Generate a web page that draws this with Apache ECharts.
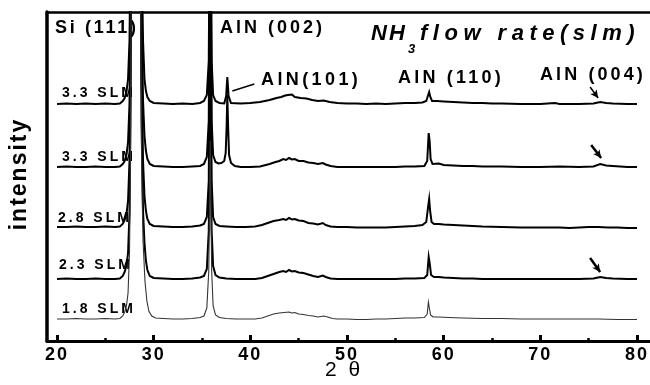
<!DOCTYPE html>
<html><head><meta charset="utf-8">
<script src="https://cdn.jsdelivr.net/npm/echarts@6/dist/echarts.min.js"></script>
<style>html,body{margin:0;padding:0;background:#fff}#c{width:650px;height:385px}</style>
</head><body><div id="c"></div>
<script>
// ---------------- data (2θ in degrees, intensity in arbitrary stacked units) ----------------
const xTickValues = [20, 30, 40, 50, 60, 70, 80];
const traceNames = ['3.3 SLM', '3.3 SLM', '2.8 SLM', '2.3 SLM', '1.8 SLM'];

const trace33a = [[20,237],[21,237.5],[22,237],[23,237.5],[24,237],[25,237.5],[26,237],[26.5,237.5],[26.8,240],[27.0,243],[27.2,250],[27.35,262],[27.5,300],[27.6,390],[27.7,640],[27.9,1700],[28.4,1700],[28.6,640],[28.75,390],[28.9,300],[29.05,262],[29.2,250],[29.35,244],[29.6,240],[30.0,238],[31,237.5],[32,237],[33,237.5],[34,237],[34.8,238],[35.2,240],[35.5,246],[35.7,280],[35.85,500],[36.0,280],[36.15,246],[36.4,240],[36.8,238],[37.3,237.5],[37.5,245],[37.62,264],[37.75,245],[38.0,238],[39,237.5],[40,238],[41,239],[42,241],[42.7,243],[43.2,244],[43.6,245.5],[43.9,246],[44.1,244.5],[44.3,246.5],[44.6,244],[45.2,243],[45.8,242.5],[46.4,241],[47.0,240],[47.6,240.5],[48.2,239],[49,238],[50,237.5],[51,237.5],[52,237],[53,237.5],[54,237],[55,237.5],[56,238],[57,238],[57.8,238.5],[58.2,240],[58.4,246],[58.5,249],[58.62,244],[58.8,240],[59.3,240],[60,239.5],[61,239],[62,238.5],[63,238],[64,238],[65,237.5],[66,237.5],[68,237],[70,237],[71.5,238],[72,237],[74,237],[75.5,237.5],[76.2,239],[76.8,238],[77.5,237.5],[79,237],[80,237]];

const trace33b = [[20,174],[21,174.5],[22,174],[23,174],[24,174.5],[25,174],[26,174],[26.5,174.5],[26.8,177],[27.0,180],[27.2,187],[27.35,199],[27.5,237],[27.6,330],[27.7,580],[27.9,1700],[28.4,1700],[28.6,580],[28.75,330],[28.9,240],[29.05,205],[29.2,190],[29.35,182],[29.6,177],[30.0,175],[31,174.5],[32,174],[33,174],[34,174.5],[34.8,175],[35.2,177],[35.5,184],[35.7,220],[35.85,500],[36.0,220],[36.15,186],[36.4,179],[36.7,177.5],[37.0,178],[37.3,180],[37.45,188],[37.55,215],[37.62,246],[37.7,215],[37.8,186],[38.0,178],[38.4,175],[39,174],[40,174],[41,174.5],[42,177],[42.6,179],[43.0,180],[43.4,182],[43.7,181],[44.0,183],[44.3,181.5],[44.6,182],[45.0,180],[45.5,180],[46.0,178.5],[46.5,178],[47.0,177],[47.5,178],[47.8,176.5],[48.3,175],[49,174],[50,174],[51,174],[52,174],[53,174],[54,174],[55,174],[56,174.5],[57,174.5],[58,175],[58.3,180],[58.45,208],[58.55,200],[58.65,182],[58.85,177],[59.5,177.5],[60,176],[61,175.5],[62,175],[63,175],[64,174.5],[66,174.5],[68,174],[70,174],[72,174.5],[74,174],[75.5,174.5],[76.2,177],[76.8,175.5],[77.5,175],[79,174],[80,174]];

const trace28 = [[20,114],[21,114],[22,114.5],[23,114],[24,114],[25,114.5],[26,114],[26.5,114.5],[26.8,117],[27.0,121],[27.2,128],[27.35,140],[27.5,180],[27.6,270],[27.7,520],[27.9,1700],[28.4,1700],[28.6,520],[28.75,270],[28.9,180],[29.05,145],[29.2,130],[29.35,122],[29.6,117],[30.0,115],[31,114.5],[32,114],[33,114],[34,114.5],[34.8,115.5],[35.2,117],[35.5,124],[35.7,160],[35.85,400],[36.0,160],[36.15,124],[36.4,117],[36.8,115],[37.5,114.5],[38.5,114],[39.5,114],[40.5,114.5],[41.2,116],[41.8,118],[42.4,120],[43.0,121],[43.4,122],[43.7,121],[44.0,123],[44.3,121.5],[44.6,122],[45.0,120.5],[45.5,120],[46.0,118],[46.5,117.5],[47.0,116.5],[47.5,118],[47.8,116],[48.3,114.5],[49,114],[50,114],[51,113.5],[52,113.5],[53,113.5],[54,113.5],[55,114],[56,114.5],[57,115],[57.8,116],[58.2,119],[58.4,135],[58.5,142],[58.6,130],[58.75,119],[59.0,117],[59.5,117],[60.0,116.5],[61,116],[62,115.5],[63,115],[64,114.5],[66,114],[68,113.5],[70,113.5],[72,113.5],[73,113],[74,113.5],[75,114],[76,114],[77,113.5],[78,113.5],[79,113],[80,113]];

const trace23 = [[20,62],[21,62.5],[22,62],[23,62],[24,62.5],[25,62],[26,62],[26.5,62.5],[26.8,65],[27.0,69],[27.2,76],[27.35,88],[27.5,128],[27.6,220],[27.7,470],[27.9,1700],[28.4,1700],[28.6,470],[28.75,220],[28.9,130],[29.05,98],[29.2,80],[29.35,71],[29.6,65],[30.0,63],[31,62.5],[32,62],[33,62],[34,62.5],[34.8,63.5],[35.2,65],[35.5,72],[35.7,110],[35.85,245],[36.0,110],[36.15,75],[36.4,66],[36.8,63.5],[37.5,62.5],[38.5,62],[39.5,62],[40.5,62],[41.2,63],[41.8,65],[42.4,67],[43.0,69],[43.4,70],[43.7,69],[44.0,71],[44.3,69.5],[44.6,70],[45.0,68.5],[45.5,68],[46.0,66.5],[46.5,65],[47.0,64],[47.5,65.5],[47.8,64],[48.3,62.5],[49,62],[50,62],[51,62],[52,62],[53,62],[54,62],[55,62],[56,62.5],[57,62.5],[58,63],[58.3,66],[58.45,84],[58.55,78],[58.7,66],[59.0,64],[59.5,64],[60.0,63.5],[61,63],[62,62.5],[63,62.5],[64,62],[66,62],[68,62],[70,62],[72,62],[74,62],[75.5,62.5],[76.2,64],[76.8,63],[77.5,62.5],[79,62],[80,62]];

const trace18 = [[20,22],[21,22],[22,22.5],[23,22],[24,22],[25,22.5],[26,22],[26.5,22.5],[26.8,25],[27.0,29],[27.2,36],[27.35,48],[27.5,88],[27.6,180],[27.7,430],[27.9,1700],[28.4,1700],[28.6,430],[28.75,180],[28.9,100],[29.1,60],[29.3,40],[29.5,30],[29.8,25],[30.2,23],[31,22.5],[32,22],[33,22],[34,22.5],[34.8,23.5],[35.2,25],[35.5,33],[35.7,70],[35.85,200],[36.0,70],[36.15,35],[36.4,26],[36.8,23.5],[37.5,22.5],[38.5,22],[39.5,22],[40.5,22],[41.2,23],[41.8,25],[42.4,27],[43.0,28],[43.5,28.5],[44.0,29],[44.3,28],[44.6,28.5],[45.0,27],[45.5,26.5],[46.0,25.5],[46.5,25],[47.0,24],[47.6,25],[48.0,24],[48.5,22.5],[49,22],[50,22],[51,21.5],[52,21.5],[53,22],[54,22],[55,22.5],[56,23],[57,23],[58,23.5],[58.3,27],[58.42,39],[58.52,33],[58.65,26],[58.9,24],[59.5,24],[60.5,23.5],[62,23],[64,22.5],[66,22.5],[68,22],[70,22],[72,22],[74,22],[76,22],[78,21.5],[80,21.5]];

// annotation arrows: [start, end] in data units
const arrow101 = [[40.41, 257], [38.14, 250]];
const arrow004a = [[75.15, 254], [75.98, 243]];
const arrow004b = [[75.26, 196], [76.29, 183]];
const arrow004c = [[75.15, 83], [76.19, 69]];

// ---------------- letter spacing helper (canvas) ----------------
const SPACING = {
  'Si (111)': 2.7, 'AlN (002)': 3, 'AlN(101)': 3.4, 'AlN (110)': 3.2, 'AlN (004)': 3.1,
  '3.3 SLM': 3, '2.8 SLM': 3, '2.3 SLM': 3, '1.8 SLM': 3,
  'NH': 2, 'flow rate(slm)': 5.5, '2 θ': 3,
  '20': 2, '30': 2, '40': 2, '50': 2, '60': 2, '70': 2, '80': 2
};
(function () {
  const p = CanvasRenderingContext2D.prototype;
  const orig = p.fillText;
  p.fillText = function (t, x, y, w) {
    const s = SPACING[t];
    if (s != null && 'letterSpacing' in this) {
      const prev = this.letterSpacing;
      this.letterSpacing = s + 'px';
      if (w === undefined) orig.call(this, t, x, y); else orig.call(this, t, x, y, w);
      this.letterSpacing = prev;
    } else {
      if (w === undefined) orig.call(this, t, x, y); else orig.call(this, t, x, y, w);
    }
  };
})();

const FONT = 'Liberation Sans, Arial, Helvetica, sans-serif';
const chart = echarts.init(document.getElementById('c'), null, { renderer: 'canvas' });

function txt(text, x, y, size, extra) {
  return {
    type: 'text', x: x, y: y, z: 1,
    style: Object.assign({ text: text, fill: '#000', font: 'bold ' + size + 'px ' + FONT,
      align: 'left', verticalAlign: 'middle' }, extra || {})
  };
}

function arrowLine(pts, width, head) {
  return [
    { coord: pts[0], symbol: 'none', lineStyle: { color: '#000', width: width, type: 'solid' } },
    { coord: pts[1], symbol: head ? 'arrow' : 'none', symbolSize: head ? [6, 8] : 0 }
  ];
}

const traces = [trace33a, trace33b, trace28, trace23, trace18];
const widths = [2, 2, 2, 2, 1.1];
const colors = ['#000', '#000', '#000', '#000', '#333'];

const series = traces.map((d, i) => ({
  type: 'line', name: traceNames[i] + ' #' + i, xAxisIndex: 2, yAxisIndex: 1,
  data: d, showSymbol: false, symbol: 'none', clip: true, z: 3,
  lineStyle: { color: colors[i], width: widths[i], join: 'miter' }
}));
series[0].markLine = {
  silent: true, animation: false, label: { show: false },
  lineStyle: { color: '#000', type: 'solid' },
  data: [arrowLine(arrow101, 1.5, false), arrowLine(arrow004a, 1.5, true),
         arrowLine(arrow004b, 2.5, true), arrowLine(arrow004c, 2.5, true)]
};

const labelYs = [93, 157, 218, 265, 309];
const labelXs = [62, 62, 58, 59, 62];

chart.setOption({
  animation: false,
  backgroundColor: '#fff',
  grid: [
    { left: 47, right: -20, top: 12, bottom: 44 },
    { left: 57, right: 11, top: 12, bottom: 44 }
  ],
  xAxis: [
    { gridIndex: 0, type: 'value', min: 0, max: 1, position: 'bottom',
      axisLine: { show: true, onZero: false, lineStyle: { color: '#000', width: 3 } },
      axisTick: { show: false }, axisLabel: { show: false }, splitLine: { show: false } },
    { gridIndex: 0, type: 'value', min: 0, max: 1, position: 'top',
      axisLine: { show: true, onZero: false, lineStyle: { color: '#000', width: 2.5 } },
      axisTick: { show: false }, axisLabel: { show: false }, splitLine: { show: false } },
    { gridIndex: 1, type: 'value', min: 20, max: 80, interval: 10, position: 'bottom',
      axisLine: { show: false, onZero: false },
      axisTick: { show: true, inside: true, length: 6, lineStyle: { color: '#000', width: 3 } },
      minorTick: { show: true, splitNumber: 2, length: 3, lineStyle: { color: '#000', width: 2.5 } },
      axisLabel: { color: '#000', fontSize: 18, fontWeight: 'bold', fontFamily: FONT, margin: 5 },
      splitLine: { show: false }, minorSplitLine: { show: false } }
  ],
  yAxis: [
    { gridIndex: 0, type: 'value', min: 0, max: 1,
      axisLine: { show: true, onZero: false, lineStyle: { color: '#000', width: 3.5 } },
      axisTick: { show: false }, axisLabel: { show: false }, splitLine: { show: false } },
    { gridIndex: 1, type: 'value', min: 0, max: 329, show: false,
      axisLine: { show: false }, splitLine: { show: false } }
  ],
  series: series,
  graphic: [
    txt('Si (111)', 55, 28, 18),
    txt('AlN (002)', 220, 28, 18),
    txt('AlN(101)', 261, 80, 18),
    txt('AlN (110)', 398, 78, 18),
    txt('AlN (004)', 540, 75, 18),
    txt('NH', 371, 34, 22, { font: 'italic bold 22px ' + FONT }),
    txt('3', 408, 49, 13, { font: 'italic bold 13px ' + FONT }),
    txt('flow rate(slm)', 420, 34, 22, { font: 'italic bold 22px ' + FONT }),
    ...traceNames.map((n, i) => txt(n, labelXs[i], labelYs[i], 14)),
    { type: 'text', x: 20, y: 174, rotation: Math.PI / 2, z: 1,
      style: { text: 'intensity', fill: '#000', font: 'bold 23px ' + FONT, align: 'center', verticalAlign: 'middle' } },
    { type: 'text', x: 344, y: 370, z: 1,
      style: { text: '2 θ', fill: '#000', font: '21px ' + FONT, align: 'center', verticalAlign: 'middle' } }
  ]
});
</script>
</body></html>
